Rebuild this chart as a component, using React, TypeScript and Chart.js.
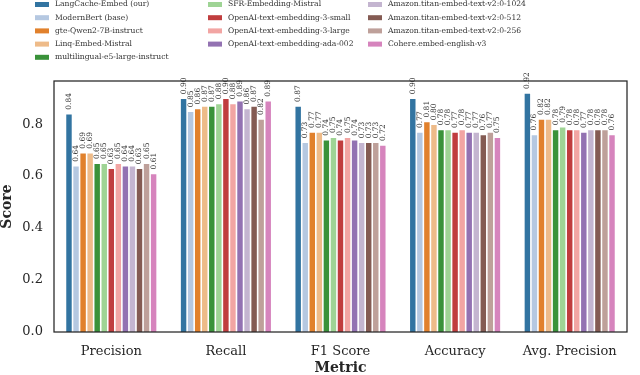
import React, { useEffect, useRef } from "react";
import { Chart, registerables } from "chart.js";

Chart.register(...registerables);

const categories = ["Precision", "Recall", "F1 Score", "Accuracy", "Avg. Precision"];

const seriesNames = [
  "LangCache-Embed (our)",
  "ModernBert (base)",
  "gte-Qwen2-7B-instruct",
  "Linq-Embed-Mistral",
  "multilingual-e5-large-instruct",
  "SFR-Embedding-Mistral",
  "OpenAI-text-embedding-3-small",
  "OpenAI-text-embedding-3-large",
  "OpenAI-text-embedding-ada-002",
  "Amazon.titan-embed-text-v2:0-1024",
  "Amazon.titan-embed-text-v2:0-512",
  "Amazon.titan-embed-text-v2:0-256",
  "Cohere.embed-english-v3",
];

const baseColors = [
  "#1f77b4", "#aec7e8", "#ff7f0e", "#ffbb78", "#2ca02c", "#98df8a", "#d62728",
  "#ff9896", "#9467bd", "#c5b0d5", "#8c564b", "#c49c94", "#e377c2",
];

const langcache = [0.84, 0.90, 0.87, 0.90, 0.92];
const modernbert = [0.64, 0.85, 0.73, 0.77, 0.76];
const gteQwen = [0.69, 0.86, 0.77, 0.81, 0.82];
const linq = [0.69, 0.87, 0.77, 0.80, 0.82];
const multilingual = [0.65, 0.87, 0.74, 0.78, 0.78];
const sfr = [0.65, 0.88, 0.75, 0.78, 0.79];
const oaiSmall = [0.63, 0.90, 0.74, 0.77, 0.78];
const oaiLarge = [0.65, 0.88, 0.75, 0.78, 0.78];
const ada = [0.64, 0.89, 0.74, 0.77, 0.77];
const titan1024 = [0.64, 0.86, 0.73, 0.77, 0.78];
const titan512 = [0.63, 0.87, 0.73, 0.76, 0.78];
const titan256 = [0.65, 0.82, 0.73, 0.77, 0.78];
const cohere = [0.61, 0.89, 0.72, 0.75, 0.76];

const seriesValues = [
  langcache, modernbert, gteQwen, linq, multilingual, sfr, oaiSmall,
  oaiLarge, ada, titan1024, titan512, titan256, cohere,
];

const yTicks = [0, 0.2, 0.4, 0.6, 0.8];

const SERIF = "'DejaVu Serif', serif";

function desaturate(hex: string, prop: number): string {
  const r = parseInt(hex.slice(1, 3), 16) / 255;
  const g = parseInt(hex.slice(3, 5), 16) / 255;
  const b = parseInt(hex.slice(5, 7), 16) / 255;
  const max = Math.max(r, g, b), min = Math.min(r, g, b);
  const l = (max + min) / 2;
  let h = 0, s = 0;
  if (max !== min) {
    const d = max - min;
    s = l > 0.5 ? d / (2 - max - min) : d / (max + min);
    if (max === r) h = (g - b) / d + (g < b ? 6 : 0);
    else if (max === g) h = (b - r) / d + 2;
    else h = (r - g) / d + 4;
    h /= 6;
  }
  s *= prop;
  const hue2rgb = (p: number, q: number, t: number) => {
    if (t < 0) t += 1;
    if (t > 1) t -= 1;
    if (t < 1 / 6) return p + (q - p) * 6 * t;
    if (t < 1 / 2) return q;
    if (t < 2 / 3) return p + (q - p) * (2 / 3 - t) * 6;
    return p;
  };
  let rr, gg, bb;
  if (s === 0) { rr = gg = bb = l; } else {
    const q = l < 0.5 ? l * (1 + s) : l + s - l * s;
    const p = 2 * l - q;
    rr = hue2rgb(p, q, h + 1 / 3);
    gg = hue2rgb(p, q, h);
    bb = hue2rgb(p, q, h - 1 / 3);
  }
  const to = (x: number) => Math.round(x * 255);
  return `rgb(${to(rr)},${to(gg)},${to(bb)})`;
}

const seriesColors = baseColors.map((c) => desaturate(c, 0.75));

const extrasPlugin = {
  id: "extras",
  afterDatasetsDraw(chart: any) {
    const ctx = chart.ctx;
    ctx.save();
    ctx.font = `7.5px ${SERIF}`;
    ctx.fillStyle = "#333";
    ctx.textAlign = "left";
    ctx.textBaseline = "middle";
    chart.data.datasets.forEach((ds: any, i: number) => {
      const meta = chart.getDatasetMeta(i);
      meta.data.forEach((bar: any, j: number) => {
        const v = ds.data[j];
        ctx.save();
        ctx.translate(bar.x, bar.y - 4);
        ctx.rotate(-Math.PI / 2);
        ctx.fillText(v.toFixed(2), 0, 0);
        ctx.restore();
      });
    });
    // frame
    const a = chart.chartArea;
    ctx.strokeStyle = "#262626";
    ctx.lineWidth = 1.25;
    ctx.strokeRect(a.left, a.top, a.right - a.left, a.bottom - a.top);
    // legend
    const colX = [35, 208, 368];
    const rowsPerCol = [5, 4, 4];
    let idx = 0;
    ctx.font = `7.6px ${SERIF}`;
    ctx.textBaseline = "middle";
    ctx.textAlign = "left";
    for (let c = 0; c < 3; c++) {
      for (let r = 0; r < rowsPerCol[c]; r++) {
        const y = 4.5 + r * 13.2;
        ctx.fillStyle = seriesColors[idx];
        ctx.fillRect(colX[c], y - 2.5, 14, 5);
        ctx.fillStyle = "#333";
        ctx.fillText(seriesNames[idx], colX[c] + 20, y);
        idx++;
      }
    }
    ctx.restore();
  },
};

export default function App() {
  const ref = useRef<HTMLCanvasElement>(null);
  useEffect(() => {
    document.body.style.margin = "0";
    const chart = new Chart(ref.current!, {
      type: "bar",
      data: {
        labels: categories,
        datasets: seriesNames.map((name, i) => ({
          label: name,
          data: seriesValues[i],
          backgroundColor: seriesColors[i],
          borderColor: "#ffffff",
          borderWidth: 0.8,
          categoryPercentage: 0.8,
          barPercentage: 1.0,
        })),
      },
      options: {
        animation: false,
        responsive: false,
        devicePixelRatio: 1,
        layout: { padding: { top: 81, right: 13, left: 0, bottom: 0 } },
        plugins: {
          legend: { display: false },
          tooltip: { enabled: false },
        },
        scales: {
          x: {
            grid: { display: false, drawTicks: false },
            border: { display: false },
            ticks: {
              color: "#262626",
              font: { family: SERIF, size: 13 },
              padding: 12,
              maxRotation: 0,
            },
            title: {
              display: true,
              text: "Metric",
              color: "#262626",
              font: { family: SERIF, size: 14, weight: "bold", lineHeight: 1 },
              padding: { top: 0, bottom: 0 },
            },
            afterFit: (s: any) => {
              s.height = 43;
            },
          },
          y: {
            min: 0,
            max: 0.966,
            grid: { display: false, drawTicks: false },
            border: { display: false },
            afterBuildTicks: (s: any) => {
              s.ticks = yTicks.map((v) => ({ value: v }));
            },
            ticks: {
              color: "#262626",
              font: { family: SERIF, size: 13 },
              padding: 11,
              callback: (v: any) => Number(v).toFixed(1),
            },
            title: {
              display: true,
              text: "Score",
              color: "#262626",
              font: { family: SERIF, size: 14, weight: "bold", lineHeight: 1 },
              padding: { top: 0, bottom: 0 },
            },
            afterFit: (s: any) => {
              s.width = 54;
            },
          },
        },
      },
      plugins: [extrasPlugin],
    });
    return () => chart.destroy();
  }, []);
  return (
    <div style={{ position: "absolute", left: 0, top: 0, width: 640, height: 375, background: "#fff" }}>
      <canvas ref={ref} width={640} height={375} />
    </div>
  );
}
